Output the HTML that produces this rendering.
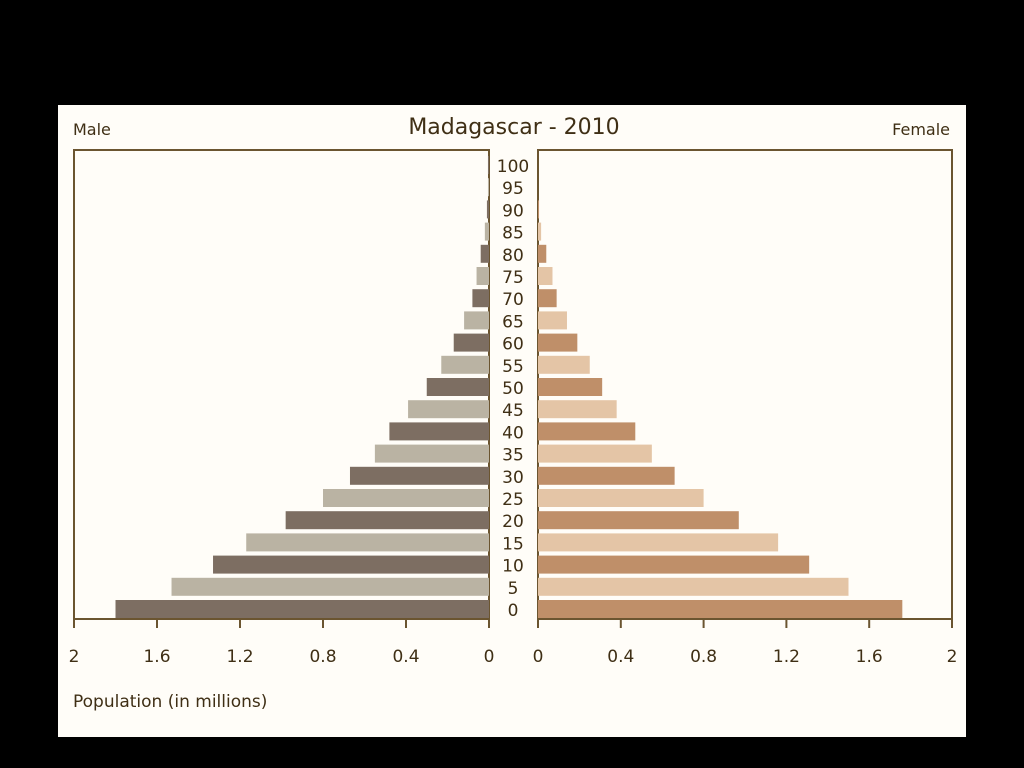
<!DOCTYPE html>
<html><head><meta charset="utf-8"><style>
body{margin:0;background:#000;width:1024px;height:768px;overflow:hidden}
svg{display:block}
text{font-family:"DejaVu Sans","Liberation Sans",sans-serif;fill:#3f2f15}
</style></head><body>
<svg width="1024" height="768">
<rect x="58" y="105" width="908" height="632" fill="#fffdf8"/>
<text x="514" y="134" font-size="22" text-anchor="middle">Madagascar - 2010</text>
<text x="73" y="135" font-size="16">Male</text>
<text x="950" y="135" font-size="16" text-anchor="end">Female</text>
<text x="73" y="707" font-size="17">Population (in millions)</text>
<rect x="74" y="150" width="415" height="469" fill="none" stroke="#6b5530" stroke-width="2"/>
<rect x="538" y="150" width="414" height="469" fill="none" stroke="#6b5530" stroke-width="2"/>
<g id="g"></g>
</svg>
<script>
const ages=[0,5,10,15,20,25,30,35,40,45,50,55,60,65,70,75,80,85,90,95,100];
const male=[1.80,1.53,1.33,1.17,0.98,0.80,0.67,0.55,0.48,0.39,0.30,0.23,0.17,0.12,0.08,0.06,0.04,0.02,0.01,0.005,0.005];
const female=[1.76,1.50,1.31,1.16,0.97,0.80,0.66,0.55,0.47,0.38,0.31,0.25,0.19,0.14,0.09,0.07,0.04,0.015,0.005,0,0];
const ticks=[0,0.4,0.8,1.2,1.6,2];
const tickLabels=["0","0.4","0.8","1.2","1.6","2"];
const NS="http://www.w3.org/2000/svg",g=document.getElementById('g');
const xm=v=>489-v*207.5, xf=v=>538+v*207;
const y=i=>600-i*22.2;
function mk(t,a){const e=document.createElementNS(NS,t);for(const k in a)e.setAttribute(k,a[k]);g.appendChild(e);return e;}
ages.forEach((a,i)=>{
 const dark=i%2==0;
 let r=mk('rect',{x:xm(male[i]),y:y(i),width:xm(0)-xm(male[i]),height:18,fill:dark?'#7d6e62':'#bab3a3'});
 
 
 r=mk('rect',{x:xf(0),y:y(i),width:xf(female[i])-xf(0),height:18,fill:dark?'#bf8f69':'#e4c5a6'});
 
 
 const t=mk('text',{x:513,y:y(i)+16,'font-size':17,'text-anchor':'middle'});t.textContent=a;
 
 
});
ticks.forEach((v,i)=>{
 [xm(v),xf(v)].forEach((x,s)=>{
  const l=mk('line',{x1:x,x2:x,y1:619,y2:628,stroke:'#6b5530','stroke-width':2});
  
  
  const t=mk('text',{x:x,y:662,'font-size':17,'text-anchor':'middle'});t.textContent=tickLabels[i];
  
  
 });
});
</script>
</body></html>
